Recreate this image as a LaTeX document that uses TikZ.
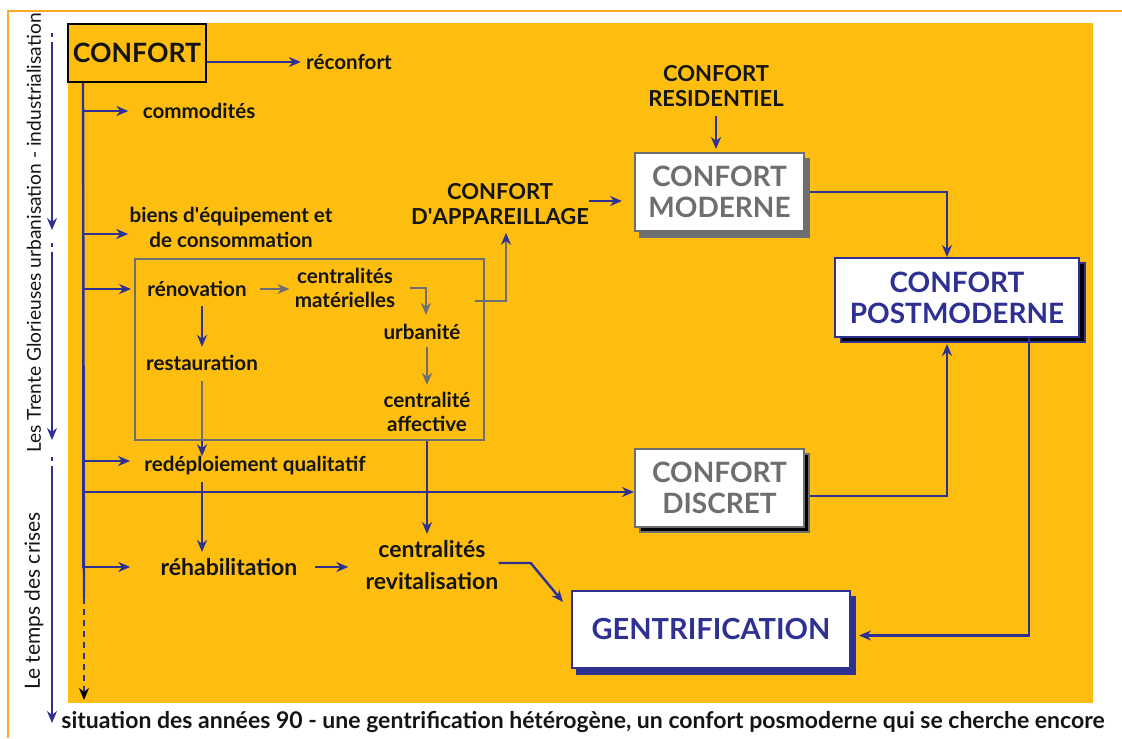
\documentclass[tikz,border=0pt]{standalone}
\usepackage{fontspec}
\setmainfont{Lato}
\usetikzlibrary{arrows.meta,shadows,calc}

\definecolor{cfyellow}{RGB}{253,190,16}
\definecolor{cforange}{RGB}{247,168,36}
\definecolor{cfblue}{RGB}{46,49,146}
\definecolor{cfgrey}{RGB}{109,110,112}
\definecolor{cfink}{RGB}{20,20,20}

\newcommand{\lblfont}{\fontsize{10.3}{12.5}\selectfont\bfseries}
\newcommand{\rehfont}{\fontsize{11.5}{16}\selectfont\bfseries}
\newcommand{\midfont}{\fontsize{11}{12.3}\selectfont\bfseries}
\newcommand{\boxfont}{\fontsize{14}{15.5}\selectfont\bfseries}
\newcommand{\axisfont}{\fontsize{9.6}{10}\selectfont}
\newcommand{\capfont}{\fontsize{11.5}{12}\selectfont\bfseries}

\begin{document}
\begin{tikzpicture}[x=0.5pt,y=-0.5pt,
  every node/.style={inner sep=0,align=center,font=\lblfont,text=cfink},
  blk/.style={draw=cfblue,line width=1.2pt,-{Stealth[length=6pt,width=5pt]}},
  gry/.style={draw=cfgrey,line width=1.2pt,-{Stealth[length=6pt,width=5pt]}},
  cbox/.style={draw,fill=white,line width=1pt,font=\boxfont},
  modbox/.style={cbox,draw=cfgrey,text=cfgrey,minimum width=84.5pt,minimum height=39pt,
    copy shadow={shadow xshift=2.5pt,shadow yshift=-3pt,fill=cfgrey,draw=cfgrey}},
  disbox/.style={cbox,draw=cfgrey,text=cfgrey,minimum width=84.5pt,minimum height=39pt,
    copy shadow={shadow xshift=2.5pt,shadow yshift=-2.5pt,fill=black,draw=cfgrey}},
  pmbox/.style={cbox,draw=cfblue,text=cfblue,minimum width=122pt,minimum height=39.5pt,
    copy shadow={shadow xshift=3pt,shadow yshift=-2.5pt,fill=black,draw=cfblue}},
  genbox/.style={cbox,draw=cfblue,text=cfblue,minimum width=139pt,minimum height=38.5pt,
    font=\fontsize{14.5}{15.5}\selectfont\bfseries,
    copy shadow={shadow xshift=2.5pt,shadow yshift=-3pt,fill=cfblue,draw=cfblue}}]

\useasboundingbox (0,0) rectangle (1122,738);
% frame and background
\draw[cforange,line width=1pt] (8,738) -- (8,11) -- (1122,11);
\fill[cfyellow] (68,23) rectangle (1093,703);

% time axis
\foreach \a/\b in {33/230,243/440,457/723}{
  \draw[cfblue,line width=0.9pt] (52,\a) -- (52,\a+4);
  \draw[cfblue,line width=0.9pt,-{Stealth[length=6pt,width=5pt]}] (52,\a+9) -- (52,\b);
}
\node[rotate=90,font=\axisfont] (era1) at (34,233) {Les Trente Glorieuses urbanisation - industrialisation};
\node[rotate=90,font=\fontsize{10.5}{11}\selectfont] (era2) at (34,601) {Le temps des crises};

% nodes
\node[draw,fill=cfyellow,line width=1pt,font=\fontsize{13.3}{15}\selectfont\bfseries,minimum width=69pt,minimum height=29pt] (confort) at (137,53) {CONFORT};
\node (reconf) at (349,62) {réconfort};
\node (commod) at (199,111) {commodités};
\node (biens) at (231,227) {biens d\textquotesingle équipement et\\de consommation};
\node[draw=cfgrey,line width=1.2pt,minimum width=174.5pt,minimum height=90.5pt] (grp) at (309.5,349.5) {};
\node (renov) at (197,289) {rénovation};
\node (resta) at (202,363) {restauration};
\node[font=\fontsize{10.3}{12}\selectfont\bfseries] (cmat) at (345,288) {centralités\\matérielles};
\node (urb) at (422,332) {urbanité};
\node[font=\fontsize{10.3}{12}\selectfont\bfseries] (caff) at (427,412) {centralité\\affective};
\node (redepl) at (255,466) {redéploiement qualitatif};
\node[font=\rehfont] (rehab) at (229,567) {réhabilitation};
\node[font=\rehfont] (crev) at (432,565) {centralités\\revitalisation};
\node[font=\midfont] (resid) at (716,86) {CONFORT\\RESIDENTIEL};
\node[font=\midfont] (appar) at (500,204) {CONFORT\\D\textquotesingle APPAREILLAGE};
\node[modbox] (moderne) at (719.5,192) {CONFORT\\MODERNE};
\node[disbox] (discret) at (719.5,488) {CONFORT\\DISCRET};
\node[pmbox] (postmod) at (957,297.5) {CONFORT\\POSTMODERNE};
\node[genbox] (gent) at (711,629.5) {GENTRIFICATION};
\node[font=\capfont] (caption) at (583,722) {situation des années 90 - une gentrification hétérogène, un confort posmoderne qui se cherche encore};

% trunk
\coordinate (tr0) at ([xshift=8pt]confort.south west);
\coordinate (tr1) at (84,598);
\coordinate (tr2) at (84,700);
\draw[cfblue,line width=1.2pt] (tr0) -- (tr1);
\draw[cfblue,line width=1.2pt,dash pattern=on 3pt off 2.5pt,-{Stealth[black,length=6pt,width=5pt]}] (tr1) -- (tr2);

% branches off the trunk
\draw[blk] (confort.east |- reconf) -- ([xshift=-2.5pt]reconf.west);
\draw[blk] (tr0) |- ([xshift=-7pt]commod.west);
\draw[blk] (tr0) |- ([xshift=-0.5pt,yshift=-3.5pt]biens.west);
\draw[blk] (tr0) |- ([xshift=-8pt]renov.west);
\draw[blk] (tr0) |- ([xshift=-7pt,yshift=2.5pt]redepl.west);
\draw[blk] (tr0) |- ([yshift=-2pt]discret.west);
\draw[blk] (tr0) |- ([xshift=-15pt]rehab.west);

% inside the grey box
\draw[gry,shorten <=6.5pt,shorten >=2.5pt] (renov) -- (cmat.west |- renov);
\draw[gry,shorten <=7pt,shorten >=4.5pt] (cmat.east) -| ([xshift=2pt]urb.north);
\draw[gry,shorten <=3.5pt,shorten >=3.5pt] ([xshift=2.5pt]urb.south) -- (caff.north);
\draw[blk,shorten <=4.5pt,shorten >=4pt] (renov.south -| resta.north) -- (resta.north);
\draw[cfgrey,line width=1.2pt,shorten <=5pt] (resta.south) -- (resta.south |- grp.south);
\coordinate (app0) at (475,301);
\draw[gry,-{Stealth[length=6pt,width=5pt,cfblue]},shorten >=4pt] (app0) -| ([xshift=3pt]appar.south);

% down to the crises
\draw[blk] (resta.south |- grp.south) -- (resta.south |- redepl.north);
\draw[blk,shorten <=3pt,shorten >=3pt] (resta.south |- redepl.south) -- (resta.south |- rehab.north);
\draw[blk,shorten <=8.5pt,shorten >=8.5pt] (rehab.east) -- (crev.west |- rehab.east);
\draw[blk,shorten >=3pt] (caff.south |- grp.south) -- (caff.south |- crev.north);
\draw[blk] ([yshift=1pt]crev.east) -- ++(16pt,0) -- ([xshift=-4pt,yshift=-6pt]gent.north west);

% confort boxes
\draw[blk,shorten >=6pt] ([yshift=1.5pt]appar.east) -- ([yshift=1.5pt]moderne.west |- appar.east);
\draw[blk,shorten <=4.5pt,shorten >=1.5pt] (resid.south) -- (resid.south |- moderne.north);
\draw[blk,shorten <=2.5pt] (moderne.east) -| ([xshift=-5pt]postmod.north);
\draw[blk,shorten <=2.5pt,shorten >=3pt] ([yshift=-4pt]discret.east) -| ([xshift=-5pt]postmod.south);
\draw[blk,shorten >=4pt] ([xshift=36pt]postmod.south) |- ([yshift=-3pt]gent.east);
\end{tikzpicture}
\end{document}
